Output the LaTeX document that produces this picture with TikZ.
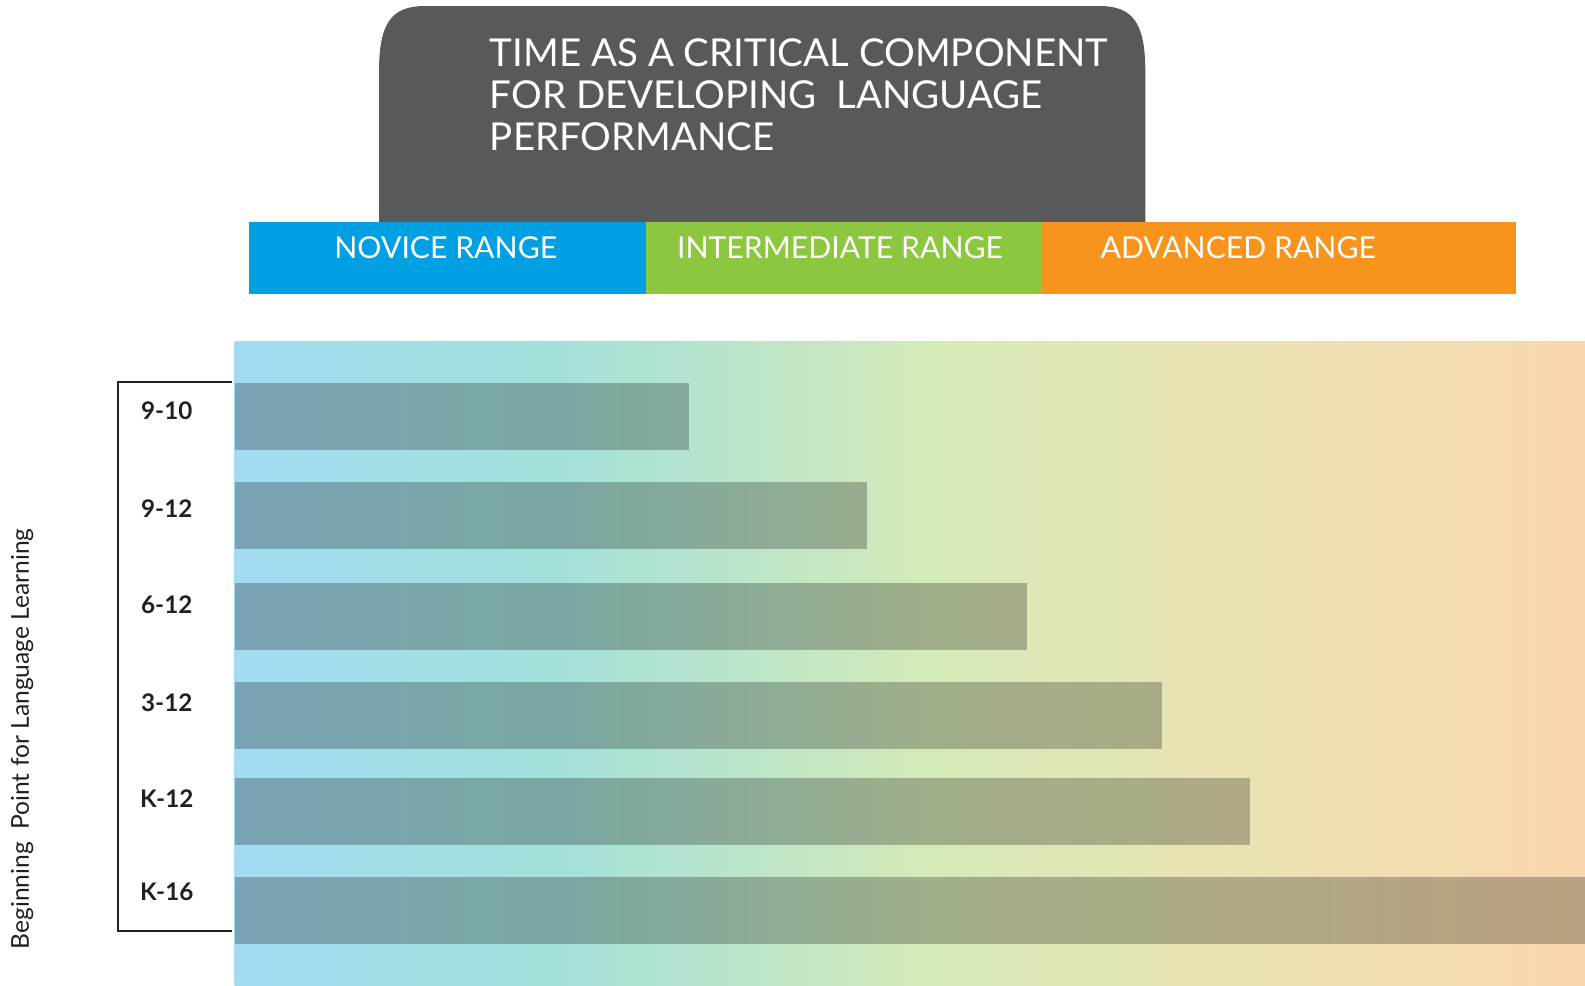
\documentclass[tikz,border=0pt]{standalone}
\usepackage{fontspec}
\setmainfont{Lato}
\usetikzlibrary{positioning}

\definecolor{titlegray}{HTML}{58595B}
\definecolor{novice}{HTML}{00A0E2}
\definecolor{inter}{HTML}{8DC63F}
\definecolor{adv}{HTML}{F7941E}
\definecolor{labelblack}{HTML}{231F20}
\definecolor{sblue}{HTML}{A3DBF3}
\definecolor{scyan}{HTML}{A3E0DA}
\definecolor{sgreen}{HTML}{D6EAB8}
\definecolor{syellow}{HTML}{EBE2B3}
\definecolor{speach}{HTML}{F9D6AE}

\pgfdeclarehorizontalshading{rangeshade}{100bp}{color(0bp)=(sblue); color(25bp)=(sblue); color(37bp)=(scyan); color(51bp)=(sgreen); color(62.5bp)=(syellow); color(75bp)=(speach); color(100bp)=(speach)}

\begin{document}
\begin{tikzpicture}[
  x=0.01011cm, y=-0.01011cm,
  rangelabel/.style={text=white, font=\fontsize{8.6}{10}\selectfont, inner sep=0},
  gradelabel/.style={text=labelblack, font=\bfseries\fontsize{6.9}{8}\selectfont, inner sep=0},
  timebar/.style={fill=black, fill opacity=0.25}
]
  \useasboundingbox (0,0) rectangle (1568,975.3);

  % title block
  \fill[titlegray] (375,221) -- (375,70) .. controls (375,22) and (388,6) .. (420,6) -- (1088,6)
    .. controls (1120,6) and (1133,22) .. (1133,70) -- (1133,221) -- cycle;
  \node[anchor=north west, align=left, text=white, font=\fontsize{10.95}{11.95}\selectfont, inner sep=0] (title) at (484,38)
    {TIME AS A CRITICAL COMPONENT\\FOR DEVELOPING\ \ LANGUAGE\\PERFORMANCE};

  % ranges
  \fill[novice] (246,220) rectangle (639,291);
  \fill[inter] (639,220) rectangle (1031,291);
  \fill[adv] (1031,220) rectangle (1500,291);
  \node[rangelabel] (novicelab) at (441,245) {NOVICE RANGE};
  \node[rangelabel] (interlab) at (831,245) {INTERMEDIATE RANGE};
  \node[rangelabel] (advlab) at (1225,245) {ADVANCED RANGE};

  % background and bars
  \shade[shading=rangeshade] (232,338) rectangle (1568,975.3);
  \foreach \lab/\top/\len/\ly [count=\i] in {9-10/379/682/406, 9-12/477/858/503, 6-12/577/1016/598,
      3-12/675/1150/695, K-12/770/1237/790, K-16/868/1568/882} {
    \fill[timebar] (232,\top) rectangle (\len,\top+66);
    \node[gradelabel] (grade\i) at (165,\ly) {\lab};
  }

  % bracket
  \coordinate (brtop) at (230,378);
  \coordinate (brbot) at (230,921);
  \draw[labelblack, line width=0.6pt] (brtop) -- (117,378) -- (117,921) -- (brbot);
  \node[rotate=90, text=labelblack, font=\fontsize{7}{8}\selectfont, inner sep=0] (axislab) at (22,731)
    {Beginning\ \ Point for Language Learning};
\end{tikzpicture}
\end{document}
